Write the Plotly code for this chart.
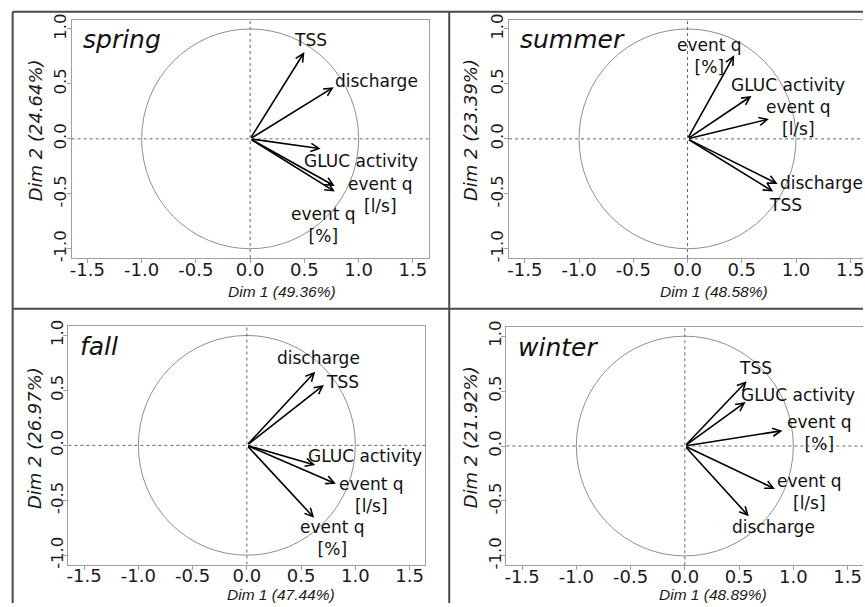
import plotly.graph_objects as go

# ---------------- data ----------------
seasons = ["spring", "summer", "fall", "winter"]
dim1_pct = ["49.36%", "48.58%", "47.44%", "48.89%"]
dim2_pct = ["24.64%", "23.39%", "26.97%", "21.92%"]

var_names = ["TSS", "discharge", "GLUC activity", "event q [l/s]", "event q [%]"]
var_labels = ["TSS", "discharge", "GLUC activity", "event q<br>[l/s]", "event q<br>[%]"]

spring_dim1 = [0.50, 0.77, 0.65, 0.78, 0.78]
spring_dim2 = [0.79, 0.47, -0.09, -0.43, -0.48]
summer_dim1 = [0.79, 0.83, 0.59, 0.75, 0.43]
summer_dim2 = [-0.48, -0.41, 0.39, 0.18, 0.76]
fall_dim1 = [0.71, 0.63, 0.63, 0.82, 0.62]
fall_dim2 = [0.55, 0.67, -0.18, -0.35, -0.66]
winter_dim1 = [0.57, 0.59, 0.56, 0.83, 0.90]
winter_dim2 = [0.59, -0.64, 0.40, -0.39, 0.14]

# label anchor positions (data units) per season
spring_lab_x = [0.56, 1.16, 1.02, 1.20, 0.68]
spring_lab_y = [0.90, 0.53, -0.20, -0.51, -0.78]
summer_lab_x = [0.90, 1.235, 0.93, 1.02, 0.20]
summer_lab_y = [-0.60, -0.40, 0.49, 0.19, 0.75]
fall_lab_x = [0.88, 0.66, 1.09, 1.15, 0.79]
fall_lab_y = [0.58, 0.795, -0.10, -0.45, -0.84]
winter_lab_x = [0.65, 0.82, 1.046, 1.15, 1.245]
winter_lab_y = [0.71, -0.734, 0.465, -0.415, 0.12]

x_ticks = [-1.5, -1.0, -0.5, 0.0, 0.5, 1.0, 1.5]
y_ticks = [-1.0, -0.5, 0.0, 0.5, 1.0]

data = {
    "spring": (spring_dim1, spring_dim2, spring_lab_x, spring_lab_y),
    "summer": (summer_dim1, summer_dim2, summer_lab_x, summer_lab_y),
    "fall": (fall_dim1, fall_dim2, fall_lab_x, fall_lab_y),
    "winter": (winter_dim1, winter_dim2, winter_lab_x, winter_lab_y),
}

# ---------------- layout geometry ----------------
W, H = 865, 607
KY, OFF = 0.9756, 7.7          # vertical correction for the capture


def ry(y):
    """target pixel row -> drawing pixel row"""
    return y / KY - OFF


S = 109.0                       # px per data unit (horizontal)
SY = S / KY                     # px per data unit (vertical, drawing)
XR, YR = 1.645, 1.085
centers = {"spring": (249.3, 139.3), "summer": (688.7, 139.3),
           "fall": (246.0, 443.3), "winter": (686.0, 444.0)}
xtitle_pos = {"spring": (281.0, 291.0), "summer": (715.7, 291.0),
              "fall": (280.7, 591.0), "winter": (714.0, 591.0)}
ytitle_pos = {"spring": (33.3, 130.7), "summer": (470.7, 131.0),
              "fall": (33.3, 436.0), "winter": (470.7, 435.8)}
FONT = "DejaVu Sans"
TITLEFONT = "Liberation Sans"

fig = go.Figure()
layout = dict(width=W, height=H, margin=dict(l=0, r=0, t=0, b=0),
              paper_bgcolor="white", plot_bgcolor="white", showlegend=False)
annotations = []
shapes = []

for i, s in enumerate(seasons):
    n = "" if i == 0 else str(i + 1)
    cx, cy_t = centers[s]
    cy = ry(cy_t)
    left_px = cx - XR * S
    right_px = min(cx + XR * S, W)
    xr = [-XR, (right_px - cx) / S]
    is_right = right_px >= W
    xa = dict(domain=[left_px / W, right_px / W], range=xr, anchor="y" + n,
              tickvals=x_ticks, ticktext=["%.1f" % v for v in x_ticks],
              showgrid=False, zeroline=False, showline=True, linecolor="#a0a0a0",
              linewidth=1, mirror=True, ticks="outside", ticklen=4, tickcolor="#a0a0a0",
              ticklabelstandoff=-9, ticklabeloverflow="allow",
              tickfont=dict(family=FONT, size=18, color="#1a1a1a"), fixedrange=True)
    ya = dict(domain=[1 - (cy + YR * SY) / H, 1 - (cy - YR * SY) / H], range=[-YR, YR],
              anchor="x" + n, tickvals=y_ticks, ticktext=["%.1f" % v for v in y_ticks],
              tickangle=-90, showgrid=False, zeroline=False, showline=True,
              linecolor="#a0a0a0", linewidth=1, mirror=(not is_right),
              ticks="outside", ticklen=4, tickcolor="#a0a0a0", ticklabelstandoff=-6,
              ticklabeloverflow="allow",
              tickfont=dict(family=FONT, size=16.5, color="#1a1a1a"), fixedrange=True)
    layout["xaxis" + n] = xa
    layout["yaxis" + n] = ya
    xref, yref = "x" + n, "y" + n

    # invisible trace to register axes
    fig.add_trace(go.Scatter(x=[0], y=[0], mode="markers", marker=dict(size=1, color="rgba(0,0,0,0)"),
                             xaxis=xref, yaxis=yref, hoverinfo="skip"))

    # unit circle
    shapes.append(dict(type="circle", xref=xref, yref=yref, x0=-1, y0=-1, x1=1, y1=1,
                       line=dict(color="#8f8f8f", width=1)))
    # dotted axes through origin
    shapes.append(dict(type="line", xref=xref, yref=yref, x0=xr[0], x1=xr[1], y0=0, y1=0,
                       line=dict(color="#666", width=1, dash="dot")))
    shapes.append(dict(type="line", xref=xref, yref=yref, x0=0, x1=0, y0=-YR, y1=YR,
                       line=dict(color="#666", width=1, dash="dot")))

    d1, d2, lx, ly = data[s]
    for k in range(len(var_names)):
        annotations.append(dict(x=d1[k], y=d2[k], ax=0, ay=0, xref=xref, yref=yref,
                                axref=xref, ayref=yref, text="", showarrow=True,
                                arrowhead=5, arrowsize=1.0, arrowwidth=1.6,
                                arrowcolor="black", standoff=0, startstandoff=0))
        annotations.append(dict(x=lx[k], y=ly[k], xref=xref, yref=yref, text=var_labels[k],
                                showarrow=False, xanchor="center", yanchor="middle",
                                font=dict(family=FONT, size=17, color="#111")))
    # season title
    annotations.append(dict(x=-1.56, y=0.90, xref=xref, yref=yref, text="<i>%s</i>" % s,
                            showarrow=False, xanchor="left", yanchor="middle",
                            font=dict(family=FONT, size=25, color="#111")))
    # axis titles
    tx, ty = xtitle_pos[s]
    annotations.append(dict(x=tx / W, y=1 - ry(ty) / H, xref="paper",
                            yref="paper", text="<i>Dim 1 (%s)</i>" % dim1_pct[i], showarrow=False,
                            xanchor="center", yanchor="middle",
                            font=dict(family=TITLEFONT, size=15.5, color="#1a1a1a")))
    tx, ty = ytitle_pos[s]
    annotations.append(dict(x=tx / W, y=1 - ry(ty) / H, xref="paper", yref="paper",
                            text="<i>Dim 2 (%s)</i>" % dim2_pct[i], showarrow=False,
                            textangle=-90, xanchor="center", yanchor="middle",
                            font=dict(family=FONT, size=18, color="#1a1a1a")))

# panel frame lines
frame = "#4a4a4a"
top_y = 1 - ry(13.3) / H
mid_y = 1 - ry(307.7) / H
shapes += [
    dict(type="line", xref="paper", yref="paper", x0=10.7 / W, x1=1, y0=top_y, y1=top_y,
         line=dict(color=frame, width=2)),
    dict(type="line", xref="paper", yref="paper", x0=10.7 / W, x1=10.7 / W, y0=0, y1=top_y,
         line=dict(color=frame, width=2)),
    dict(type="line", xref="paper", yref="paper", x0=449.3 / W, x1=449.3 / W, y0=0, y1=top_y,
         line=dict(color=frame, width=2)),
    dict(type="line", xref="paper", yref="paper", x0=10.7 / W, x1=1, y0=mid_y, y1=mid_y,
         line=dict(color=frame, width=2)),
]

layout["annotations"] = annotations
layout["shapes"] = shapes
fig.update_layout(**layout)
fig.write_html("out.html")
